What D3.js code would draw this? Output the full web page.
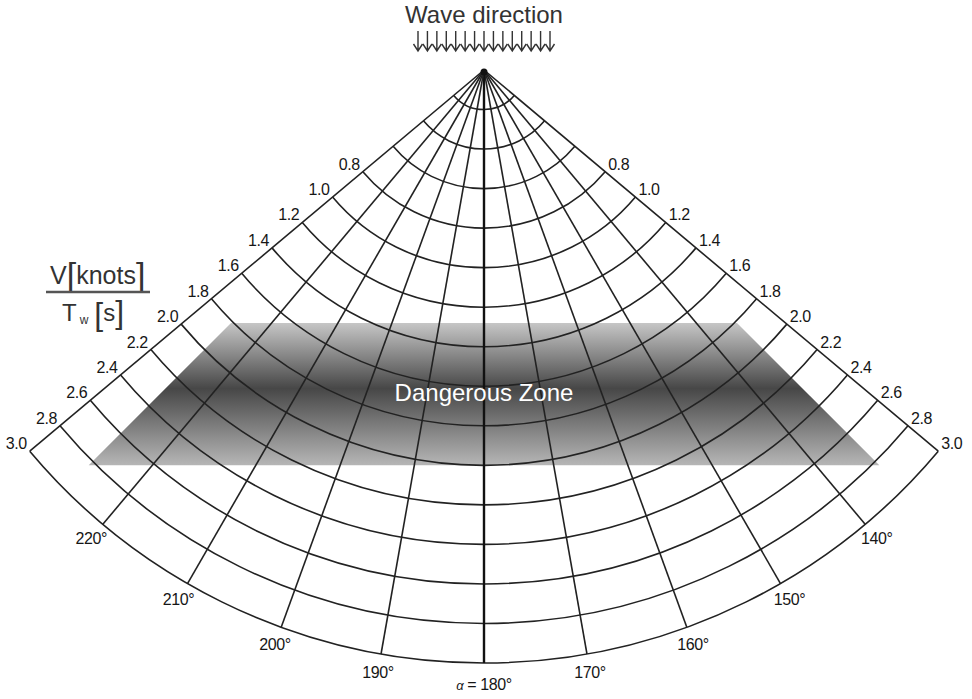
<!DOCTYPE html>
<meta charset="utf-8">
<style>
body { margin: 0; background: #fff; }
svg { display: block; font-family: "Liberation Sans", Arial, sans-serif; }
.grid path, .grid line { fill: none; stroke: #222; stroke-width: 1.6px; }
.lbl { font-size: 16px; fill: #161616; letter-spacing: -0.4px; }
</style>
<svg width="972" height="699"></svg>
<script src="https://cdnjs.cloudflare.com/ajax/libs/d3/7.8.5/d3.min.js"></script>
<script>

// speed / wave period ratio circles (V[knots] / Tw[s])
var ratios = [0.2, 0.4, 0.6, 0.8, 1.0, 1.2, 1.4, 1.6, 1.8, 2.0, 2.2, 2.4, 2.6, 2.8, 3.0];
var ratioLabels = [0.8, 1.0, 1.2, 1.4, 1.6, 1.8, 2.0, 2.2, 2.4, 2.6, 2.8, 3.0];
// encounter angle alpha (deg), radial lines
var headings = [130, 140, 150, 160, 170, 180, 190, 200, 210, 220, 230];
var headingLabels = [140, 150, 160, 170, 190, 200, 210, 220];
// dangerous zone : between these headings and these projected ratios
var zoneHeadings = [135, 225];
var zoneRatios = [1.28, 2.0];

var svg = d3.select("svg"),
    cx = 484, cy = 70;

var r = d3.scaleLinear().domain([0, 3.0]).range([0, 593]);
var rad = function(h) { return h * Math.PI / 180; };
var pt = function(h, v) {
  var p = d3.pointRadial(rad(h), r(v));
  return [cx + p[0], cy + p[1]];
};

var hMin = d3.min(headings), hMax = d3.max(headings), vMax = d3.max(ratios);

//////////////////////////////////////////////////////////// dangerous zone
var grad = svg.append("defs").append("linearGradient")
    .attr("id", "zone").attr("x1", 0).attr("x2", 0).attr("y1", 0).attr("y2", 1);
grad.selectAll("stop")
  .data([[0, "#c6c6c6"], [0.46, "#474747"], [1, "#b6b6b6"]])
  .enter().append("stop")
    .attr("offset", function(d) { return d[0]; })
    .attr("stop-color", function(d) { return d[1]; });

var zt = Math.abs(Math.tan(rad(zoneHeadings[1] - 180)));
var yTop = cy + r(zoneRatios[0]), yBot = cy + r(zoneRatios[1]);
var zonePts = [
  [cx - r(zoneRatios[0]) * zt, yTop],
  [cx + r(zoneRatios[0]) * zt, yTop],
  [cx + r(zoneRatios[1]) * zt, yBot],
  [cx - r(zoneRatios[1]) * zt, yBot]
];
svg.append("path")
    .attr("d", d3.line()(zonePts) + "Z")
    .attr("fill", "url(#zone)");

//////////////////////////////////////////////////////////// grid
var grid = svg.append("g").attr("class", "grid");

grid.selectAll("path.arc")
  .data(ratios)
  .enter().append("path")
    .attr("class", "arc")
    .attr("d", function(d) {
      var p = d3.path();
      var a0 = rad(hMin - 90), a1 = rad(hMax - 90);
      p.moveTo(cx + r(d) * Math.cos(a0), cy + r(d) * Math.sin(a0));
      p.arc(cx, cy, r(d), a0, a1);
      return p.toString();
    });

grid.selectAll("line")
  .data(headings)
  .enter().append("line")
    .attr("x1", cx).attr("y1", cy)
    .attr("x2", function(d) { return pt(d, vMax)[0]; })
    .attr("y2", function(d) { return pt(d, vMax)[1]; })
    .style("stroke-width", function(d) { return d == 180 ? 2.4 : null; })
    .style("stroke", function(d) { return d == 180 ? "#111" : null; });

svg.append("circle").attr("cx", cx).attr("cy", cy + 2).attr("r", 3.5).attr("fill", "#111");

//////////////////////////////////////////////////////////// ratio labels on both edges
svg.selectAll("text.left")
  .data(ratioLabels)
  .enter().append("text")
    .attr("class", "lbl")
    .attr("text-anchor", "end")
    .attr("x", function(d) { return pt(hMax, d)[0] - 3; })
    .attr("y", function(d) { return pt(hMax, d)[1] - 2; })
    .text(function(d) { return d.toFixed(1); });

svg.selectAll("text.right")
  .data(ratioLabels)
  .enter().append("text")
    .attr("class", "lbl")
    .attr("text-anchor", "start")
    .attr("x", function(d) { return pt(hMin, d)[0] + 3; })
    .attr("y", function(d) { return pt(hMin, d)[1] - 2; })
    .text(function(d) { return d.toFixed(1); });

//////////////////////////////////////////////////////////// heading labels
svg.selectAll("text.deg")
  .data(headingLabels)
  .enter().append("text")
    .attr("class", "lbl")
    .attr("text-anchor", "middle")
    .attr("x", function(d) { return cx + d3.pointRadial(rad(d), r(vMax) + 18)[0]; })
    .attr("y", function(d) { return cy + d3.pointRadial(rad(d), r(vMax) + 18)[1] + 6; })
    .text(function(d) { return d + "°"; });

var a180 = svg.append("text").attr("class", "lbl")
    .attr("text-anchor", "middle")
    .attr("x", cx).attr("y", cy + r(vMax) + 27);
a180.append("tspan").style("font-style", "italic").style("font-size", "13px").text("α");
a180.append("tspan").text(" = 180°");

//////////////////////////////////////////////////////////// dangerous zone text
svg.append("text")
    .attr("x", cx).attr("y", 401)
    .attr("text-anchor", "middle")
    .style("font-size", "24px")
    .style("fill", "#fff")
    .text("Dangerous Zone");

//////////////////////////////////////////////////////////// wave direction
svg.append("text")
    .attr("x", cx).attr("y", 23)
    .attr("text-anchor", "middle")
    .style("font-size", "24px")
    .style("fill", "#333")
    .text("Wave direction");

var ax = d3.scalePoint().domain(d3.range(15)).range([418, 550]);
svg.append("g").selectAll("path")
  .data(ax.domain())
  .enter().append("path")
    .attr("d", function(d) {
      var x = ax(d);
      return "M" + x + ",31V51M" + (x - 4.5) + ",44L" + x + ",51L" + (x + 4.5) + ",44";
    })
    .attr("fill", "none")
    .attr("stroke", "#333")
    .attr("stroke-width", 1.4);

//////////////////////////////////////////////////////////// V / Tw
var num = svg.append("text").attr("x", 50).attr("y", 284).style("fill", "#333").style("font-size", "25px");
num.append("tspan").text("V");
num.append("tspan").style("font-size", "34px").attr("dy", 2).text("[");
num.append("tspan").attr("dy", -2).text("knots");
num.append("tspan").style("font-size", "34px").attr("dy", 2).text("]");

svg.append("line")
    .attr("x1", 46).attr("x2", 150).attr("y1", 292).attr("y2", 292)
    .attr("stroke", "#555").attr("stroke-width", 2.5);

var den = svg.append("text").attr("x", 62).attr("y", 321).style("fill", "#333").style("font-size", "24px");
den.append("tspan").text("T");
den.append("tspan").style("font-size", "12px").attr("dx", 3).attr("dy", 3).text("w");
den.append("tspan").style("font-size", "32px").attr("dx", 6).attr("dy", 1).text("[");
den.append("tspan").attr("dy", -4).text("s");
den.append("tspan").style("font-size", "32px").attr("dy", 2).text("]");

</script>
